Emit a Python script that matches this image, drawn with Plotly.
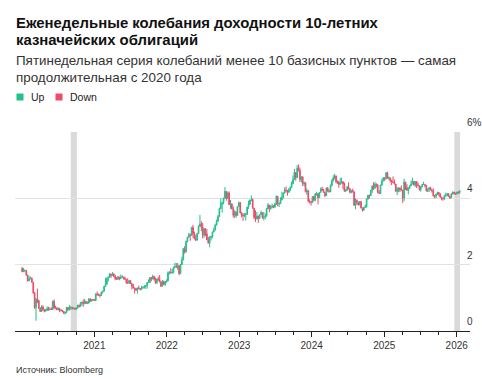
import plotly.graph_objects as go
import pandas as pd

# ---------------- data (weekly 10Y Treasury yield, %) ----------------
open_2020 = [1.88,1.79,1.82,1.82,1.68,1.51,1.58,1.58,1.47,1.15,0.71,0.96,0.92,0.68,0.59,0.73,0.65,0.60,0.62,0.68,0.64,0.66,0.65,0.90,0.70,0.69,0.64,0.67,0.64,0.62,0.59,0.53,0.56,0.71,0.63,0.72,0.72,0.67,0.69,0.66,0.70,0.78,0.74,0.84,0.87,0.82,0.89,0.83,0.84,0.97,0.90,0.95]
high_2020 = [1.93,1.90,1.86,1.84,1.70,1.67,1.64,1.62,1.47,1.17,1.00,1.28,0.92,0.72,0.78,0.77,0.66,0.67,0.74,0.73,0.71,0.71,0.91,0.95,0.76,0.72,0.71,0.70,0.65,0.63,0.60,0.58,0.73,0.71,0.79,0.73,0.72,0.71,0.70,0.71,0.79,0.79,0.87,0.88,0.95,0.97,0.91,0.89,0.98,0.98,0.96,0.96]
low_2020 = [1.77,1.78,1.77,1.67,1.50,1.50,1.56,1.46,1.12,0.66,0.31,0.84,0.67,0.58,0.58,0.60,0.56,0.58,0.61,0.61,0.63,0.64,0.64,0.65,0.68,0.63,0.62,0.57,0.59,0.57,0.53,0.50,0.55,0.62,0.63,0.64,0.65,0.66,0.63,0.64,0.67,0.71,0.74,0.76,0.73,0.81,0.82,0.82,0.83,0.88,0.89,0.91]
close_2020 = [1.79,1.82,1.82,1.68,1.51,1.58,1.58,1.47,1.15,0.71,0.96,0.92,0.68,0.59,0.73,0.65,0.60,0.62,0.68,0.64,0.66,0.65,0.90,0.70,0.69,0.64,0.67,0.64,0.62,0.59,0.53,0.56,0.71,0.63,0.72,0.72,0.67,0.69,0.66,0.70,0.78,0.74,0.84,0.87,0.82,0.89,0.83,0.84,0.97,0.90,0.95,0.94]

open_2021 = [0.94,0.92,1.12,1.09,1.09,1.07,1.17,1.20,1.34,1.41,1.57,1.63,1.72,1.67,1.72,1.66,1.58,1.56,1.63,1.58,1.63,1.63,1.59,1.56,1.45,1.44,1.52,1.43,1.36,1.30,1.28,1.23,1.30,1.28,1.26,1.31,1.33,1.34,1.37,1.46,1.47,1.61,1.57,1.65,1.56,1.46,1.57,1.54,1.48,1.35,1.49,1.41,1.49]
high_2021 = [0.97,1.13,1.19,1.13,1.11,1.18,1.21,1.36,1.61,1.62,1.64,1.75,1.72,1.78,1.74,1.69,1.63,1.66,1.63,1.70,1.69,1.63,1.64,1.57,1.59,1.54,1.52,1.43,1.42,1.30,1.30,1.31,1.37,1.30,1.36,1.34,1.38,1.38,1.47,1.56,1.62,1.63,1.70,1.66,1.61,1.58,1.64,1.69,1.50,1.54,1.52,1.50,1.56]
low_2021 = [0.90,0.90,1.07,1.06,1.01,1.06,1.13,1.20,1.33,1.40,1.49,1.60,1.60,1.67,1.62,1.53,1.54,1.55,1.53,1.57,1.60,1.55,1.56,1.43,1.43,1.42,1.42,1.25,1.28,1.13,1.21,1.13,1.26,1.22,1.24,1.27,1.28,1.27,1.28,1.45,1.45,1.50,1.56,1.52,1.42,1.42,1.52,1.47,1.33,1.35,1.38,1.36,1.45]
close_2021 = [0.92,1.12,1.09,1.09,1.07,1.17,1.20,1.34,1.41,1.57,1.63,1.72,1.67,1.72,1.66,1.58,1.56,1.63,1.58,1.63,1.63,1.59,1.56,1.45,1.44,1.52,1.43,1.36,1.30,1.28,1.23,1.30,1.28,1.26,1.31,1.33,1.34,1.37,1.46,1.47,1.61,1.57,1.65,1.56,1.46,1.57,1.54,1.48,1.35,1.49,1.41,1.49,1.51]

open_2022 = [1.51,1.76,1.77,1.75,1.77,1.92,1.94,1.92,1.97,1.73,2.00,2.14,2.48,2.38,2.70,2.83,2.90,2.89,3.13,2.93,2.78,2.74,2.94,3.16,3.23,3.13,2.89,3.08,2.93,2.75,2.65,2.83,2.85,2.98,3.04,3.19,3.31,3.45,3.69,3.83,3.88,4.01,4.21,4.01,4.16,3.81,3.83,3.68,3.49,3.58,3.48,3.75]
high_2022 = [1.80,1.80,1.90,1.87,1.94,2.06,2.05,2.05,1.97,2.02,2.24,2.50,2.56,2.73,2.84,2.96,2.94,3.13,3.20,3.00,2.90,2.96,3.18,3.50,3.31,3.26,3.10,3.10,3.07,2.84,2.86,2.87,3.00,3.12,3.23,3.36,3.50,3.72,4.00,3.89,4.01,4.34,4.21,4.20,4.21,3.95,3.85,3.75,3.64,3.62,3.75,3.90]
low_2022 = [1.50,1.70,1.74,1.72,1.74,1.90,1.92,1.84,1.68,1.73,1.99,2.14,2.33,2.37,2.67,2.82,2.72,2.87,2.81,2.77,2.71,2.73,2.94,3.15,3.01,2.79,2.81,2.86,2.74,2.64,2.52,2.73,2.79,2.98,3.04,3.19,3.30,3.45,3.68,3.57,3.82,3.98,3.93,3.98,3.81,3.68,3.67,3.42,3.40,3.42,3.48,3.74]
close_2022 = [1.76,1.77,1.75,1.77,1.92,1.94,1.92,1.97,1.73,2.00,2.14,2.48,2.38,2.70,2.83,2.90,2.89,3.13,2.93,2.78,2.74,2.94,3.16,3.23,3.13,2.89,3.08,2.93,2.75,2.65,2.83,2.85,2.98,3.04,3.19,3.31,3.45,3.69,3.83,3.88,4.01,4.21,4.01,4.16,3.81,3.83,3.68,3.49,3.58,3.48,3.75,3.87]

open_2023 = [3.87,3.56,3.50,3.48,3.51,3.52,3.74,3.82,3.95,3.96,3.70,3.43,3.38,3.47,3.39,3.51,3.57,3.42,3.44,3.46,3.68,3.80,3.69,3.74,3.76,3.74,3.84,4.06,3.83,3.84,3.95,4.03,4.16,4.25,4.24,4.18,4.26,4.33,4.43,4.57,4.78,4.62,4.91,4.84,4.57,4.65,4.44,4.47,4.20,4.23,3.91,3.90]
high_2023 = [3.89,3.59,3.55,3.56,3.56,3.74,3.93,3.96,4.09,4.00,3.70,3.64,3.59,3.47,3.52,3.63,3.57,3.59,3.54,3.71,3.86,3.80,3.80,3.84,3.80,3.87,4.09,4.06,3.88,4.03,4.20,4.18,4.33,4.36,4.24,4.31,4.35,4.51,4.69,4.89,4.78,5.00,5.02,4.93,4.66,4.65,4.51,4.47,4.30,4.24,3.97,3.92]
low_2023 = [3.55,3.43,3.32,3.43,3.33,3.50,3.68,3.80,3.91,3.69,3.37,3.29,3.36,3.26,3.38,3.51,3.38,3.33,3.37,3.46,3.68,3.58,3.66,3.70,3.70,3.71,3.80,3.76,3.74,3.83,3.94,3.99,4.15,4.18,4.08,4.17,4.21,4.30,4.43,4.56,4.53,4.62,4.81,4.49,4.48,4.37,4.36,4.18,4.10,3.88,3.84,3.78]
close_2023 = [3.56,3.50,3.48,3.51,3.52,3.74,3.82,3.95,3.96,3.70,3.43,3.38,3.47,3.39,3.51,3.57,3.42,3.44,3.46,3.68,3.80,3.69,3.74,3.76,3.74,3.84,4.06,3.83,3.84,3.95,4.03,4.16,4.25,4.24,4.18,4.26,4.33,4.43,4.57,4.78,4.62,4.91,4.84,4.57,4.65,4.44,4.47,4.20,4.23,3.91,3.90,3.88]

open_2024 = [3.88,4.05,3.94,4.13,4.14,4.02,4.18,4.28,4.25,4.18,4.08,4.31,4.22,4.20,4.39,4.52,4.62,4.67,4.50,4.50,4.42,4.46,4.50,4.43,4.22,4.26,4.34,4.28,4.18,4.24,4.20,3.79,3.94,3.89,3.80,3.90,3.71,3.65,3.73,3.75,3.98,4.09,4.08,4.24,4.37,4.31,4.43,4.41,4.17,4.15,4.40,4.52]
high_2024 = [4.07,4.08,4.16,4.20,4.16,4.19,4.33,4.35,4.29,4.18,4.32,4.34,4.27,4.42,4.59,4.70,4.74,4.69,4.54,4.51,4.61,4.63,4.51,4.48,4.27,4.37,4.48,4.31,4.25,4.29,4.20,4.00,3.97,3.89,3.92,3.92,3.72,3.74,3.81,3.99,4.11,4.11,4.26,4.39,4.48,4.50,4.45,4.41,4.25,4.41,4.59,4.64]
low_2024 = [3.86,3.91,3.91,4.08,3.82,4.01,4.17,4.23,4.17,4.04,4.07,4.20,4.17,4.20,4.36,4.56,4.57,4.45,4.43,4.32,4.41,4.45,4.27,4.20,4.19,4.22,4.27,4.15,4.15,4.17,3.78,3.67,3.80,3.79,3.79,3.70,3.60,3.62,3.71,3.72,3.96,3.99,4.07,4.16,4.25,4.28,4.33,4.17,4.13,4.13,4.38,4.52]
close_2024 = [4.05,3.94,4.13,4.14,4.02,4.18,4.28,4.25,4.18,4.08,4.31,4.22,4.20,4.39,4.52,4.62,4.67,4.50,4.50,4.42,4.46,4.50,4.43,4.22,4.26,4.34,4.28,4.18,4.24,4.20,3.79,3.94,3.89,3.80,3.90,3.71,3.65,3.73,3.75,3.98,4.09,4.08,4.24,4.37,4.31,4.43,4.41,4.17,4.15,4.40,4.52,4.62]

open_2025 = [4.62,4.60,4.77,4.61,4.62,4.54,4.49,4.48,4.43,4.21,4.30,4.31,4.25,4.25,4.01,4.49,4.33,4.24,4.31,4.38,4.43,4.51,4.40,4.51,4.41,4.38,4.27,4.35,4.42,4.42,4.39,4.22,4.28,4.32,4.25,4.23,4.07,4.06,4.13,4.18,4.12,4.03,4.01,4.00,4.08,4.09,4.14,4.06,4.02,4.14,4.19,4.15]
high_2025 = [4.63,4.79,4.80,4.66,4.62,4.56,4.66,4.57,4.43,4.33,4.33,4.33,4.39,4.26,4.59,4.50,4.43,4.33,4.40,4.54,4.62,4.52,4.52,4.51,4.48,4.38,4.37,4.43,4.50,4.43,4.40,4.29,4.33,4.35,4.28,4.30,4.10,4.14,4.20,4.18,4.16,4.05,4.02,4.11,4.17,4.16,4.15,4.06,4.15,4.21,4.19,4.17]
low_2025 = [4.52,4.56,4.59,4.55,4.48,4.40,4.47,4.42,4.20,4.10,4.18,4.19,4.24,3.86,3.92,4.25,4.24,4.12,4.28,4.37,4.43,4.39,4.34,4.31,4.36,4.23,4.20,4.33,4.40,4.33,4.21,4.19,4.19,4.25,4.17,4.06,4.00,4.00,4.10,4.06,4.03,3.94,3.93,3.95,4.05,4.06,4.05,3.98,4.01,4.11,4.11,4.11]
close_2025 = [4.60,4.77,4.61,4.62,4.54,4.49,4.48,4.43,4.21,4.30,4.31,4.25,4.25,4.01,4.49,4.33,4.24,4.31,4.38,4.43,4.51,4.40,4.51,4.41,4.38,4.27,4.35,4.42,4.42,4.39,4.22,4.28,4.32,4.25,4.23,4.07,4.06,4.13,4.18,4.12,4.03,4.01,4.00,4.08,4.09,4.14,4.06,4.02,4.14,4.19,4.15,4.13]

open_2026 = [4.13,4.19,4.17]
high_2026 = [4.20,4.21,4.24]
low_2026 = [4.11,4.14,4.14]
close_2026 = [4.19,4.17,4.23]

first_week = "2020-01-03"          # weekly bars, Friday dates
year_ticks = ["2021-01-01", "2022-01-01", "2023-01-01", "2024-01-01", "2025-01-01", "2026-01-01"]
year_labels = ["2021", "2022", "2023", "2024", "2025", "2026"]
y_tick_vals = [0, 2, 4, 6]
y_tick_labels = ["0", "2", "4", "6%"]
# periods of 5 weeks with weekly swings under 10 bp
calm_starts = ["2020-09-04", "2025-12-20"]
calm_ends = ["2020-10-05", "2026-01-18"]

opens = open_2020 + open_2021 + open_2022 + open_2023 + open_2024 + open_2025 + open_2026
highs = high_2020 + high_2021 + high_2022 + high_2023 + high_2024 + high_2025 + high_2026
lows = low_2020 + low_2021 + low_2022 + low_2023 + low_2024 + low_2025 + low_2026
closes = close_2020 + close_2021 + close_2022 + close_2023 + close_2024 + close_2025 + close_2026
dates = pd.date_range(first_week, periods=len(closes), freq="W-FRI")

# ---------------- styling ----------------
W, H = 482, 379
ML, MR, MT, MB = 15, 12, 132, 48
PW, PH = W - ML - MR, H - MT - MB
GREEN = "#22c08c"
RED = "#ee4a6a"
FONT = "Liberation Sans, Arial, sans-serif"


def xp(px):
    return (px - ML) / PW


def yp(py):
    return (H - MB - py) / PH


fig = go.Figure()
fig.add_trace(go.Candlestick(
    x=dates, open=opens, high=highs, low=lows, close=closes,
    increasing=dict(line=dict(color=GREEN, width=1), fillcolor=GREEN),
    decreasing=dict(line=dict(color=RED, width=1), fillcolor=RED),
    whiskerwidth=0, showlegend=False, hoverinfo="skip",
))

for s, e in zip(calm_starts, calm_ends):
    fig.add_shape(type="rect", xref="x", yref="paper", x0=s, x1=e, y0=0, y1=1,
                  fillcolor="#dadada", line=dict(width=0), layer="between")

minor_vals = [d.strftime("%Y-%m-%d") for d in pd.date_range("2020-04-01", "2025-12-31", freq="QS")]

fig.update_layout(
    width=W, height=H,
    margin=dict(l=ML, r=MR, t=MT, b=MB),
    paper_bgcolor="white", plot_bgcolor="white",
    font=dict(family=FONT, color="#333333", size=10),
    showlegend=False,
    xaxis=dict(
        type="date", range=["2019-11-28", "2026-03-09"],
        rangeslider=dict(visible=False),
        showgrid=False, zeroline=False,
        showline=True, linecolor="#222222", linewidth=1,
        tickvals=year_ticks, ticktext=year_labels,
        ticks="outside", ticklen=5, tickcolor="#222222", tickwidth=1,
        tickfont=dict(size=10, color="#333333", family=FONT),
        minor=dict(tickvals=minor_vals, ticks="outside", ticklen=3, tickcolor="#222222", tickwidth=1),
        fixedrange=True,
    ),
    yaxis=dict(
        range=[0, 6], tickvals=y_tick_vals, showticklabels=False,
        showgrid=True, gridcolor="#e2e2e2", gridwidth=1,
        zeroline=False, showline=False, fixedrange=True,
    ),
)

anns = []
for v, t in zip(y_tick_vals, y_tick_labels):
    anns.append(dict(x=xp(465), xref="paper", xanchor="left", y=v, yref="y", yanchor="bottom",
                     yshift=2, text=t, showarrow=False, font=dict(size=10, color="#333333", family=FONT)))

anns.append(dict(x=xp(14), y=yp(22.8), xref="paper", yref="paper", xanchor="left", yanchor="middle",
                 text="<b>Еженедельные колебания доходности 10-летних</b>", showarrow=False,
                 font=dict(size=14.9, color="#111111", family=FONT)))
anns.append(dict(x=xp(14), y=yp(39.5), xref="paper", yref="paper", xanchor="left", yanchor="middle",
                 text="<b>казначейских облигаций</b>", showarrow=False,
                 font=dict(size=14.9, color="#111111", family=FONT)))
anns.append(dict(x=xp(14), y=yp(60.5), xref="paper", yref="paper", xanchor="left", yanchor="middle",
                 text="Пятинедельная серия колебаний менее 10 базисных пунктов — самая", showarrow=False,
                 font=dict(size=13.4, color="#333333", family=FONT)))
anns.append(dict(x=xp(14), y=yp(77), xref="paper", yref="paper", xanchor="left", yanchor="middle",
                 text="продолжительная с 2020 года", showarrow=False,
                 font=dict(size=13.4, color="#333333", family=FONT)))
anns.append(dict(x=xp(29), y=yp(97), xref="paper", yref="paper", xanchor="left", yanchor="middle",
                 text="Up", showarrow=False, font=dict(size=10.5, color="#222222", family=FONT)))
anns.append(dict(x=xp(68), y=yp(97), xref="paper", yref="paper", xanchor="left", yanchor="middle",
                 text="Down", showarrow=False, font=dict(size=10.5, color="#222222", family=FONT)))
anns.append(dict(x=xp(14), y=yp(370), xref="paper", yref="paper", xanchor="left", yanchor="middle",
                 text="Источник: Bloomberg", showarrow=False, font=dict(size=9, color="#333333", family=FONT)))
fig.update_layout(annotations=anns)

for x0, col in [(16.5, GREEN), (55.5, RED)]:
    fig.add_shape(type="rect", xref="paper", yref="paper", x0=xp(x0), x1=xp(x0 + 7),
                  y0=yp(100.5), y1=yp(93.5), fillcolor=col, line=dict(width=0))

fig.write_html("out.html", config={"displayModeBar": False},
               post_script="document.body.style.margin='0';document.body.style.overflow='hidden';")
